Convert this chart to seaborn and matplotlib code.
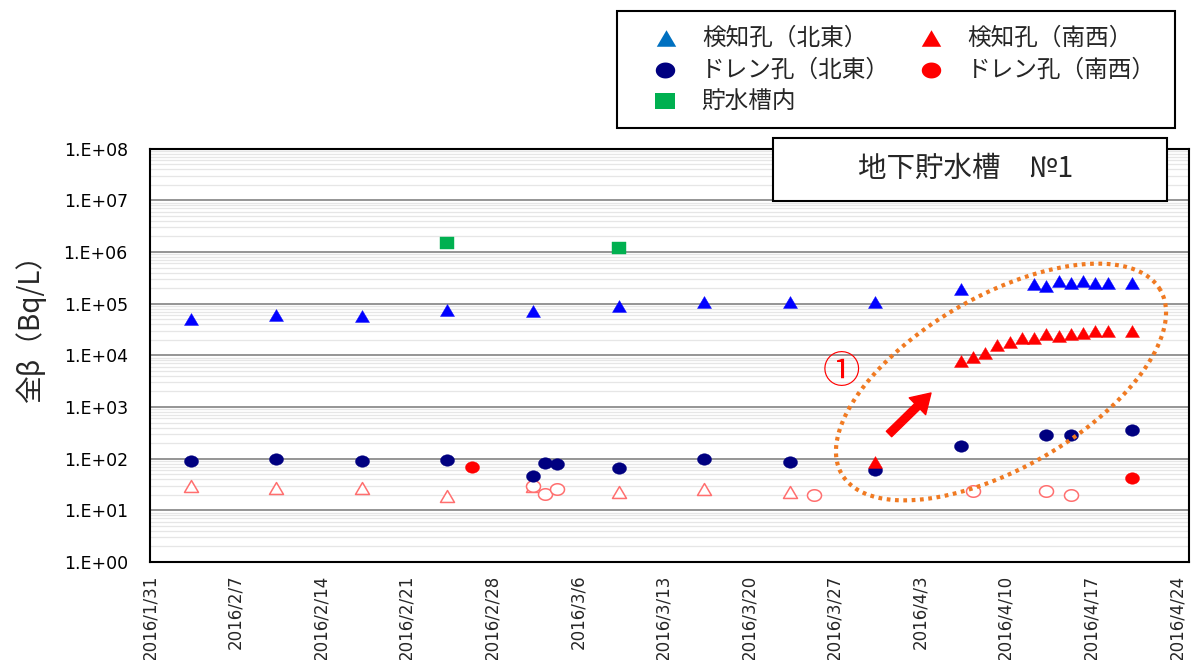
import matplotlib
matplotlib.use("Agg")
import numpy as np
import pandas as pd
import matplotlib.pyplot as plt
import matplotlib.dates as mdates
import matplotlib.ticker as mticker
from matplotlib.path import Path
from matplotlib.lines import Line2D
from matplotlib.patches import Rectangle
import seaborn as sns

# ---- 全β concentrations (Bq/L) by sampling date ----
ne_probe_dates = ["2016-02-03", "2016-02-10", "2016-02-17", "2016-02-24", "2016-03-02",
                  "2016-03-09", "2016-03-16", "2016-03-23", "2016-03-30", "2016-04-06",
                  "2016-04-12", "2016-04-13", "2016-04-14", "2016-04-15", "2016-04-16",
                  "2016-04-17", "2016-04-18", "2016-04-20"]
ne_probe_vals = [5.0e4, 6.1e4, 5.8e4, 7.6e4, 7.2e4, 8.8e4, 1.07e5, 1.07e5, 1.07e5, 1.9e5,
                 2.35e5, 2.2e5, 2.7e5, 2.55e5, 2.7e5, 2.55e5, 2.55e5, 2.55e5]

sw_probe_dates = ["2016-03-30", "2016-04-06", "2016-04-07", "2016-04-08", "2016-04-09",
                  "2016-04-10", "2016-04-11", "2016-04-12", "2016-04-13", "2016-04-14",
                  "2016-04-15", "2016-04-16", "2016-04-17", "2016-04-18", "2016-04-20"]
sw_probe_vals = [86, 7.8e3, 9.4e3, 1.1e4, 1.6e4, 1.78e4, 2.2e4, 2.15e4, 2.55e4, 2.4e4,
                 2.55e4, 2.7e4, 2.9e4, 3.0e4, 3.0e4]

ne_drain_dates = ["2016-02-03", "2016-02-10", "2016-02-17", "2016-02-24", "2016-03-02",
                  "2016-03-03", "2016-03-04", "2016-03-09", "2016-03-16", "2016-03-23",
                  "2016-03-30", "2016-04-06", "2016-04-13", "2016-04-15", "2016-04-20"]
ne_drain_vals = [90, 99, 90, 94, 47, 81, 80, 67, 100, 86, 59, 178, 285, 288, 355]

sw_drain_dates = ["2016-02-26", "2016-04-20"]
sw_drain_vals = [68, 43]

tank_dates = ["2016-02-24", "2016-03-09"]
tank_vals = [1.5e6, 1.2e6]

# below detection limit (open symbols, plotted at the limit)
sw_probe_nd_dates = ["2016-02-03", "2016-02-10", "2016-02-17", "2016-02-24", "2016-03-02",
                     "2016-03-09", "2016-03-16", "2016-03-23"]
sw_probe_nd_vals = [29, 27.5, 27.5, 19, 29, 23, 26, 23]

sw_drain_nd_dates = ["2016-03-02", "2016-03-03", "2016-03-04", "2016-03-25", "2016-04-07",
                     "2016-04-13", "2016-04-15"]
sw_drain_nd_vals = [29.5, 21, 26, 20, 23.5, 23.5, 19.7]

legend_labels = ["検知孔（北東）", "検知孔（南西）", "ドレン孔（北東）", "ドレン孔（南西）", "貯水槽内"]
title_text = "地下貯水槽　№1"
ylabel_text = "全β（Bq/L）"
tick_dates = pd.date_range("2016-01-31", "2016-04-24", freq="7D")
x_start, x_end = "2016-01-31", "2016-04-25"

# ---- long-form table ----
series = [
    ("sw_probe_nd", sw_probe_nd_dates, sw_probe_nd_vals),
    ("sw_drain_nd", sw_drain_nd_dates, sw_drain_nd_vals),
    ("ne_drain", ne_drain_dates, ne_drain_vals),
    ("sw_drain", sw_drain_dates, sw_drain_vals),
    ("ne_probe", ne_probe_dates, ne_probe_vals),
    ("sw_probe", sw_probe_dates, sw_probe_vals),
    ("tank", tank_dates, tank_vals),
]
frames = []
for name, d, v in series:
    frames.append(pd.DataFrame({"series": name,
                                "date": pd.to_datetime(d) + pd.Timedelta(hours=8),
                                "value": v}))
df = pd.concat(frames, ignore_index=True)

# ---- marker shapes ----
TRI = Path([(0, 0.85), (-1, -0.85), (1, -0.85), (0, 0.85)],
           [Path.MOVETO, Path.LINETO, Path.LINETO, Path.CLOSEPOLY])
_t = np.linspace(0, 2 * np.pi, 49)
OVAL = Path(np.c_[np.cos(_t), 0.82 * np.sin(_t)], closed=True)
SQUARE = Path([(-1, -0.87), (1, -0.87), (1, 0.87), (-1, 0.87), (-1, -0.87)],
              [Path.MOVETO, Path.LINETO, Path.LINETO, Path.LINETO, Path.CLOSEPOLY])

BLUE = "#0000ff"
NAVY = "#000080"
RED = "#ff0000"
GREEN = "#00b050"
PINK = "#ff6f6f"

styles = {
    "sw_probe_nd": dict(marker=TRI, color=PINK, facecolor="white", edgecolor=PINK, linewidth=1.1, zorder=3),
    "sw_drain_nd": dict(marker=OVAL, color=PINK, facecolor="white", edgecolor=PINK, linewidth=1.1, zorder=3),
    "ne_drain": dict(marker=OVAL, color=NAVY, edgecolor=NAVY, linewidth=0.3, zorder=4),
    "sw_drain": dict(marker=OVAL, color=RED, edgecolor=RED, linewidth=0.3, zorder=4),
    "ne_probe": dict(marker=TRI, color=BLUE, edgecolor=BLUE, linewidth=0.3, zorder=5),
    "sw_probe": dict(marker=TRI, color=RED, edgecolor=RED, linewidth=0.3, zorder=5),
    "tank": dict(marker=SQUARE, color=GREEN, edgecolor=GREEN, linewidth=0.3, zorder=5),
}

sns.set_style("white")
plt.rcParams["font.family"] = ["DejaVu Sans"]
JP = ["Noto Sans CJK JP", "DejaVu Sans"]

W, H = 1191, 660
fig = plt.figure(figsize=(W / 100, H / 100), dpi=100)
fig.patch.set_facecolor("white")


def fx(px):
    return px / W


def fy(py):
    return 1 - py / H


ax = fig.add_axes([fx(150), fy(562), (1189 - 150) / W, (562 - 148.6) / H])
ax.set_yscale("log")

for name, _, _ in series:
    sub = df[df["series"] == name]
    sns.scatterplot(data=sub, x="date", y="value", ax=ax, s=102, legend=False, **styles[name])

ax.set_ylim(1, 1e8)
ax.set_xlim(pd.Timestamp(x_start), pd.Timestamp(x_end))

# y axis: decades labelled 1.E+nn, faint minor grid
ax.yaxis.set_major_locator(mticker.LogLocator(base=10, numticks=20))
ax.yaxis.set_minor_locator(mticker.LogLocator(base=10, subs=np.arange(2, 10), numticks=20))
ax.yaxis.set_major_formatter(mticker.FuncFormatter(lambda v, p: f"1.E+{int(round(np.log10(v))):02d}"))
ax.yaxis.set_minor_formatter(mticker.NullFormatter())
ax.tick_params(axis="y", which="both", length=0, pad=16, labelsize=12.5, colors="black")
ax.grid(axis="y", which="major", color="#8c8c8c", linewidth=1.3)
ax.grid(axis="y", which="minor", color="#e6e6e6", linewidth=0.9)
ax.grid(axis="x", which="both", visible=False)
ax.set_axisbelow(True)

# x axis: weekly labels, daily minor ticks
ax.set_xticks(tick_dates)
ax.xaxis.set_major_formatter(mticker.FuncFormatter(
    lambda v, p: (lambda d: f"{d.year}/{d.month}/{d.day}")(mdates.num2date(v))))
ax.xaxis.set_minor_locator(mdates.DayLocator())
ax.tick_params(axis="x", which="major", direction="out", length=5, width=1, color="#555555",
               pad=4, labelsize=12, labelrotation=90)
ax.tick_params(axis="x", which="minor", direction="in", length=4, width=0.8, color="#888888")
ax.set_xlabel("")
ax.set_ylabel("")
for sp in ax.spines.values():
    sp.set_color("black")
    sp.set_linewidth(1.5)
    sp.set_visible(True)

# y label
fig.text(fx(31), fy(321), ylabel_text, rotation=90, ha="center", va="center",
         fontsize=20, family=JP)

# title box
fig.add_artist(Rectangle((fx(773), fy(201)), (1167 - 773) / W, (201 - 138) / H,
                         transform=fig.transFigure, facecolor="white", edgecolor="black",
                         linewidth=1.5, zorder=10))
fig.text(fx(966), fy(169), title_text, ha="center", va="center", fontsize=20.5,
         family=JP, zorder=11)

# legend box
fig.add_artist(Rectangle((fx(617), fy(128)), (1175 - 617) / W, (128 - 11) / H,
                         transform=fig.transFigure, facecolor="white", edgecolor="black",
                         linewidth=1.5, zorder=10))
leg_items = [
    (legend_labels[0], TRI, "#0070c0", 666, 38),
    (legend_labels[1], TRI, RED, 931, 38),
    (legend_labels[2], OVAL, NAVY, 665, 70),
    (legend_labels[3], OVAL, RED, 931, 70),
    (legend_labels[4], SQUARE, GREEN, 665, 101),
]
for label, mk, col, mx, my in leg_items:
    fig.add_artist(Line2D([fx(mx)], [fy(my)], transform=fig.transFigure, marker=mk,
                          markersize=14, color=col, markeredgewidth=0, linestyle="none", zorder=11))
    fig.text(fx(mx + 36), fy(my), label, ha="left", va="center", fontsize=17,
             family=JP, zorder=11)

# highlighted group: dotted ellipse, arrow, circled number
theta = np.deg2rad(30)
tt = np.linspace(0, 2 * np.pi, 400)
a, b = 184, 86
cx, cy = 1001, 382
ex = cx + a * np.cos(tt) * np.cos(theta) - b * np.sin(tt) * np.sin(theta)
ey = cy - (a * np.cos(tt) * np.sin(theta) + b * np.sin(tt) * np.cos(theta))
fig.add_artist(Line2D(fx(ex), fy(ey), transform=fig.transFigure, color="#f07a22",
                      linewidth=3.0, linestyle=(0, (0.9, 1.1)), zorder=8))

ax.annotate("", xy=(fx(931), fy(393)), xytext=(fx(889), fy(434)),
            xycoords="figure fraction", textcoords="figure fraction",
            arrowprops=dict(arrowstyle="simple,head_length=1.05,head_width=1.3,tail_width=0.42",
                            mutation_scale=13, color=RED, shrinkA=0, shrinkB=0),
            zorder=9)
fig.text(fx(841), fy(373), "①", ha="center", va="center", fontsize=27, color=RED,
         family=JP, zorder=9)

fig.savefig("out.png", dpi=100)
